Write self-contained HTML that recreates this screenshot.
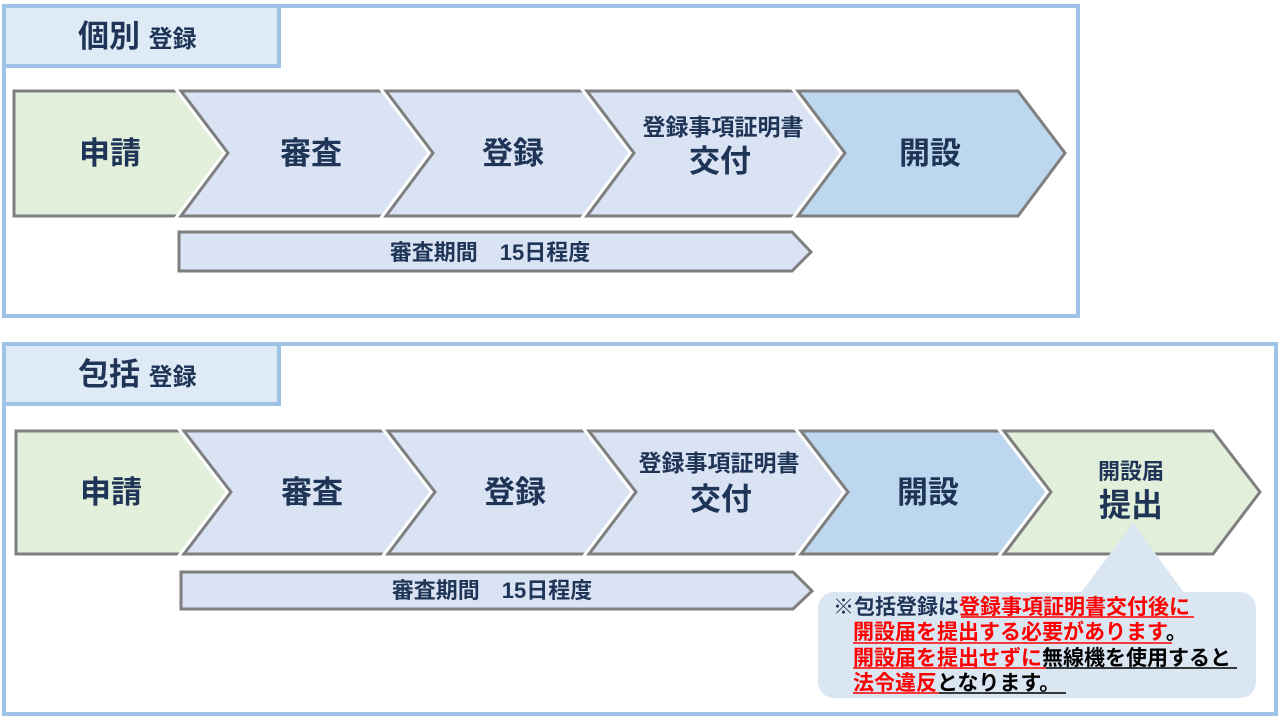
<!DOCTYPE html>
<html><head><meta charset="utf-8"><style>
html,body{margin:0;padding:0;background:#fff;}
svg{display:block;}
text{font-family:"Liberation Sans","Noto Sans CJK JP",sans-serif;font-weight:bold;fill:#1f3557;}
</style></head><body>
<svg width="1280" height="720" viewBox="0 0 1280 720" xmlns="http://www.w3.org/2000/svg">
<!-- panel 1 -->
<rect x="4" y="6" width="1074" height="310" fill="#fff" stroke="#9dc3e6" stroke-width="4"/>
<rect x="4" y="6" width="275" height="60" fill="#deebf7" stroke="#9dc3e6" stroke-width="4"/>
<text x="78" y="47" font-size="31">個別 <tspan font-size="24">登録</tspan></text>

<g stroke-linejoin="miter">
<polygon points="14,91 190,91 237,153 190,216 14,216" fill="#e2efda" stroke="#7f7f7f" stroke-width="3"/>
<polygon points="181,91 390,91 437,153 390,216 181,216 228,153" fill="none" stroke="#fff" stroke-width="9"/>
<polygon points="181,91 390,91 437,153 390,216 181,216 228,153" fill="#dae3f3" stroke="#7f7f7f" stroke-width="3"/>
<polygon points="386,91 591,91 638,153 591,216 386,216 433,153" fill="none" stroke="#fff" stroke-width="9"/>
<polygon points="386,91 591,91 638,153 591,216 386,216 433,153" fill="#dae3f3" stroke="#7f7f7f" stroke-width="3"/>
<polygon points="587,91 803,91 850,153 803,216 587,216 634,153" fill="none" stroke="#fff" stroke-width="9"/>
<polygon points="587,91 803,91 850,153 803,216 587,216 634,153" fill="#dae3f3" stroke="#7f7f7f" stroke-width="3"/>
<polygon points="798,91 1018,91 1065,153 1018,216 798,216 845,153" fill="none" stroke="#fff" stroke-width="9"/>
<polygon points="798,91 1018,91 1065,153 1018,216 798,216 845,153" fill="#bdd7ee" stroke="#7f7f7f" stroke-width="3"/>
</g>
<text x="110" y="164" font-size="31" text-anchor="middle">申請</text>
<text x="311" y="164" font-size="31" text-anchor="middle">審査</text>
<text x="513" y="164" font-size="31" text-anchor="middle">登録</text>
<text x="723" y="135" font-size="23" text-anchor="middle">登録事項証明書</text>
<text x="720" y="172" font-size="31" text-anchor="middle">交付</text>
<text x="930" y="164" font-size="31" text-anchor="middle">開設</text>

<polygon points="179,232 792,232 811,252 792,271 179,271" fill="#dae3f3" stroke="#7f7f7f" stroke-width="3"/>
<text x="490" y="260" font-size="22" text-anchor="middle">審査期間　15日程度</text>

<!-- panel 2 -->
<rect x="4" y="344" width="1272" height="370" fill="#fff" stroke="#9dc3e6" stroke-width="4"/>
<rect x="4" y="344" width="275" height="60" fill="#deebf7" stroke="#9dc3e6" stroke-width="4"/>
<text x="78" y="385" font-size="31">包括 <tspan font-size="24">登録</tspan></text>

<polygon points="16,431 191,431 238,492 191,554 16,554" fill="#e2efda" stroke="#7f7f7f" stroke-width="3"/>
<polygon points="184,431 393,431 440,492 393,554 184,554 231,492" fill="none" stroke="#fff" stroke-width="9"/>
<polygon points="184,431 393,431 440,492 393,554 184,554 231,492" fill="#dae3f3" stroke="#7f7f7f" stroke-width="3"/>
<polygon points="388,431 593,431 640,492 593,554 388,554 435,492" fill="none" stroke="#fff" stroke-width="9"/>
<polygon points="388,431 593,431 640,492 593,554 388,554 435,492" fill="#dae3f3" stroke="#7f7f7f" stroke-width="3"/>
<polygon points="589,431 806,431 853,492 806,554 589,554 636,492" fill="none" stroke="#fff" stroke-width="9"/>
<polygon points="589,431 806,431 853,492 806,554 589,554 636,492" fill="#dae3f3" stroke="#7f7f7f" stroke-width="3"/>
<polygon points="801,431 1008,431 1055,492 1008,554 801,554 848,492" fill="none" stroke="#fff" stroke-width="9"/>
<polygon points="801,431 1008,431 1055,492 1008,554 801,554 848,492" fill="#bdd7ee" stroke="#7f7f7f" stroke-width="3"/>
<polygon points="1004,431 1213,431 1260,492 1213,554 1004,554 1051,492" fill="none" stroke="#fff" stroke-width="9"/>
<polygon points="1004,431 1213,431 1260,492 1213,554 1004,554 1051,492" fill="#e2efda" stroke="#7f7f7f" stroke-width="3"/>
<text x="111" y="503" font-size="31" text-anchor="middle">申請</text>
<text x="312" y="503" font-size="31" text-anchor="middle">審査</text>
<text x="515" y="503" font-size="31" text-anchor="middle">登録</text>
<text x="719" y="471" font-size="23" text-anchor="middle">登録事項証明書</text>
<text x="721" y="510" font-size="31" text-anchor="middle">交付</text>
<text x="928" y="503" font-size="31" text-anchor="middle">開設</text>
<text x="1131" y="479" font-size="22" text-anchor="middle">開設届</text>
<text x="1131" y="516" font-size="32" text-anchor="middle">提出</text>

<polygon points="181,572 793,572 812,591 793,609 181,609" fill="#dae3f3" stroke="#7f7f7f" stroke-width="3"/>
<text x="492" y="598" font-size="22" text-anchor="middle">審査期間　15日程度</text>

<!-- callout -->
<polygon points="1080,594 1133,523 1185,594" fill="#dbe6f3"/>
<rect x="818" y="592" width="438" height="106" rx="16" fill="#dbe6f3"/>
<g font-size="21">
<text x="833" y="614" fill="#1a1a1a">※包括登録は<tspan fill="#ff0000">登録事項証明書交付後に</tspan></text>
<text x="853" y="639"><tspan fill="#ff0000">開設届を提出する必要があります</tspan><tspan fill="#000">。</tspan></text>
<text x="853" y="665"><tspan fill="#ff0000">開設届を提出せずに</tspan><tspan fill="#000">無線機を使用すると</tspan></text>
<text x="853" y="690"><tspan fill="#ff0000">法令違反</tspan><tspan fill="#000">となります。</tspan></text>
</g>
<g stroke-width="1.5">
<line x1="961" y1="617" x2="1194" y2="617" stroke="#ff0000"/>
<line x1="853" y1="643" x2="1172" y2="643" stroke="#ff0000"/>
<line x1="853" y1="668" x2="1046" y2="668" stroke="#ff0000"/>
<line x1="1046" y1="668" x2="1237" y2="668" stroke="#000"/>
<line x1="853" y1="693" x2="939" y2="693" stroke="#ff0000"/>
<line x1="939" y1="693" x2="1066" y2="693" stroke="#000"/>
</g>
</svg>
</body></html>
